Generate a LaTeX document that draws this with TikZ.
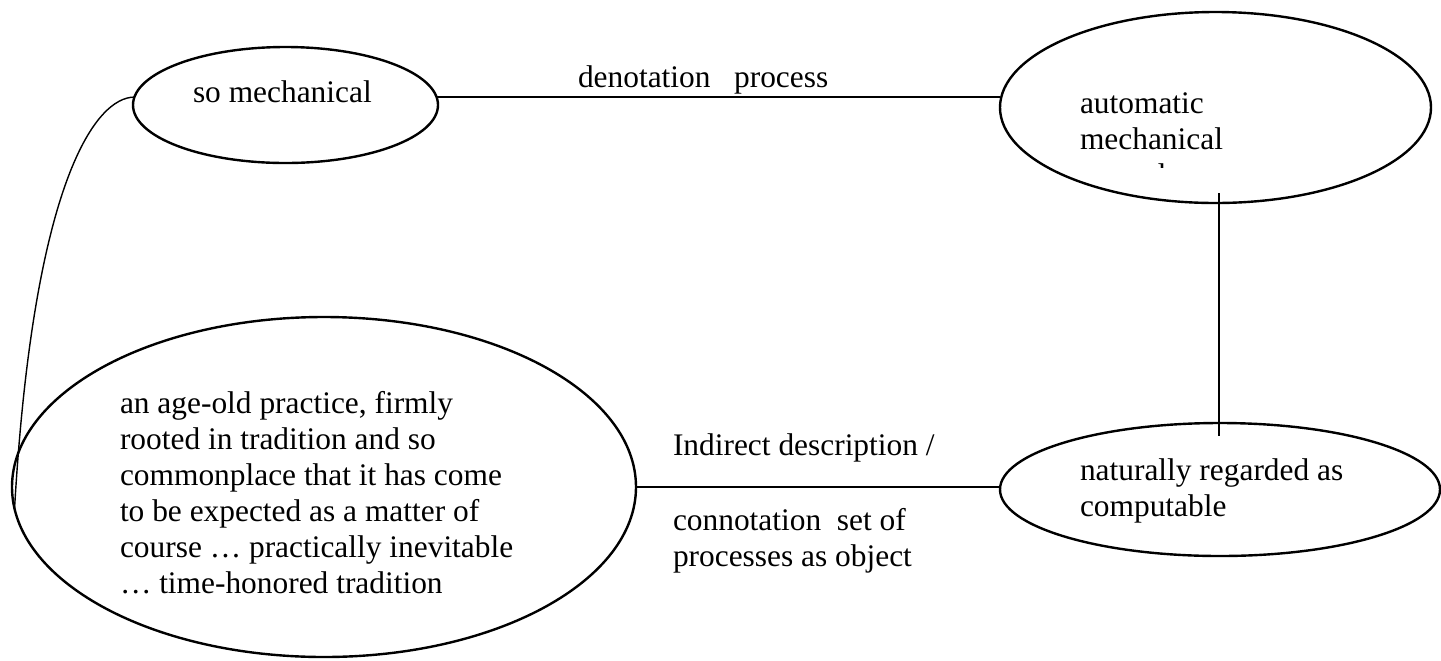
\documentclass[tikz,border=0pt]{standalone}
\usepackage{fontspec}
\setmainfont{Liberation Serif}
\usetikzlibrary{shapes.geometric,calc}
\tikzset{
  ell/.style={ellipse, draw, line width=1.2pt, inner sep=0pt, outer sep=0pt},
  txt/.style={anchor=base west, inner sep=0pt, outer sep=0pt, font=\fontsize{15.7}{18}\selectfont},
  conn/.style={line width=0.85pt},
  curveconn/.style={line width=0.7pt}
}
\newcommand{\mlines}[1]{\begin{tabular}[t]{@{}l@{}}#1\end{tabular}}
\begin{document}
\begin{tikzpicture}[x=0.5pt,y=-0.5pt]
\fill[white] (0,0) rectangle (1441,660);
\useasboundingbox (0,0) rectangle (1441,660);
% ellipses
\node[ell, minimum width=152.5pt, minimum height=58pt] (som) at (285.5,105) {};
\node[ell, minimum width=215.5pt, minimum height=95.5pt] (auto) at (1215.5,107.5) {};
\node[ell, minimum width=220pt, minimum height=66.5pt] (nat) at (1220,489.5) {};
\node[ell, minimum width=312pt, minimum height=170pt] (big) at (324,487) {};
% texts
\node[txt] (somt) at (193,102) {so mechanical};
\node[txt] (den) at (578,87) {denotation\ \ \ process};
\node[txt] (autot) at (1080,113) {\mlines{automatic\\mechanical}};
\begin{scope}
  \clip (1060,150) rectangle (1300,167);
  \node[txt] (autoc) at (1080,185) {procedure};
\end{scope}
\node[txt] (natt) at (1080,480) {\mlines{naturally regarded as\\computable}};
\node[txt] (ind) at (673,455) {Indirect description /};
\node[txt] (con) at (673,530) {\mlines{connotation\ \ set of\\processes as object}};
\node[txt] (bigt) at (120,413) {\mlines{an age-old practice, firmly\\rooted in tradition and so\\commonplace that it has come\\to be expected as a matter of\\course … practically inevitable\\… time-honored tradition}};
% connectors
\draw[conn] (som.3) -- (som.3 -| auto.west);
\draw[conn] (big.east) -- (big.east -| nat.west);
\coordinate (v1) at ($(auto.south)+(3.5,-10)$);
\draw[conn] (v1) -- ($(v1 |- nat.north)+(0,13)$);
\draw[curveconn] (som.177) .. controls +(-38,0) and +(19,-330) .. (big.184);
\end{tikzpicture}
\end{document}
